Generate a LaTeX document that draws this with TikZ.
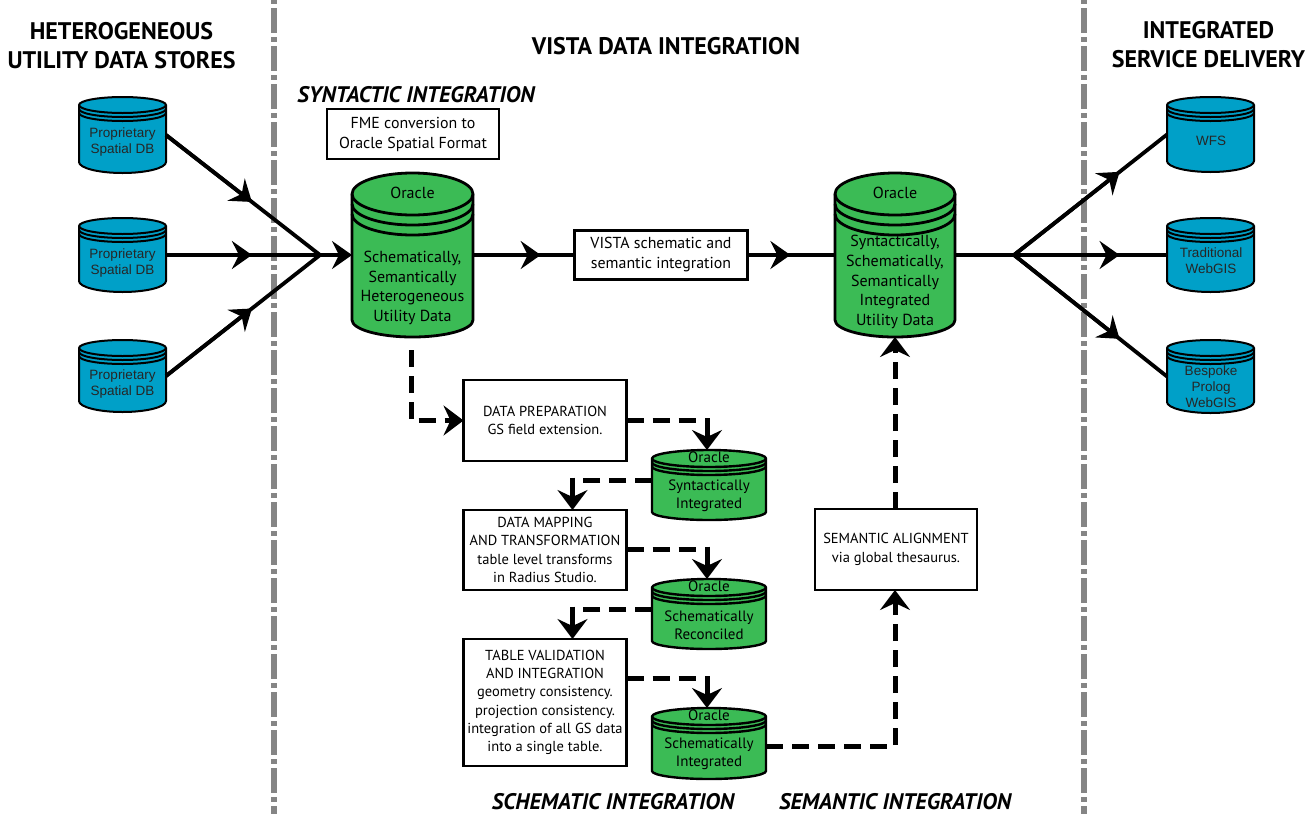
\documentclass[tikz,border=0pt]{standalone}
\usepackage{fontspec}
\setmainfont{PT Sans}
\newfontfamily\helv{Liberation Sans}
\usetikzlibrary{arrows.meta,calc}
\definecolor{dbblue}{HTML}{00A0C8}
\definecolor{dbgreen}{HTML}{3BBB55}
\definecolor{sepgray}{HTML}{858585}
\newcommand\dbcyl[9]{%
 % name,x1,x2,top,bot,ry,rb,gap,style
 \pgfmathsetmacro\cyxm{(#2+#3)/2}%
 \pgfmathsetmacro\cykx{0.55*(#3-#2)/2}%
 \pgfmathsetmacro\cysa{#4+#6}%
 \pgfmathsetmacro\cyca{#4+#6*0.45}%
 \pgfmathsetmacro\cysb{#5-#7}%
 \pgfmathsetmacro\cycb{#5-#7*0.45}%
 \pgfmathsetmacro\cywd{#3-#2}%
 \pgfmathsetmacro\cyht{#5-#4}%
 \pgfmathsetmacro\cyym{(#4+#5)/2}%
 \draw[#9] (#2,\cysa) .. controls (#2,\cyca) and ({\cyxm-\cykx},#4) .. (\cyxm,#4)
   .. controls ({\cyxm+\cykx},#4) and (#3,\cyca) .. (#3,\cysa)
   -- (#3,\cysb) .. controls (#3,\cycb) and ({\cyxm+\cykx},#5) .. (\cyxm,#5)
   .. controls ({\cyxm-\cykx},#5) and (#2,\cycb) .. (#2,\cysb) -- cycle;
 \foreach \k in {0,1,2}{%
   \pgfmathsetmacro\cyra{\cysa+\k*#8}%
   \pgfmathsetmacro\cyrc{\cyra+#6*0.55}%
   \pgfmathsetmacro\cyrb{\cyra+#6}%
   \draw[#9,fill=none] (#2,\cyra) .. controls (#2,\cyrc) and ({\cyxm-\cykx},\cyrb) .. (\cyxm,\cyrb)
     .. controls ({\cyxm+\cykx},\cyrb) and (#3,\cyrc) .. (#3,\cyra);
 }%
 \node[inner sep=0pt,outer sep=0pt,minimum width=\cywd pt,minimum height=\cyht pt] (#1) at (\cyxm,\cyym) {};%
}
\tikzset{
 bluecyl/.style={draw=black,fill=dbblue,line width=2pt},
 bigcyl/.style={draw=black,fill=dbgreen,line width=2.8pt},
 smallcyl/.style={draw=black,fill=dbgreen,line width=2.4pt},
 boxn/.style={draw=black,fill=white,line width=2.6pt,inner sep=0pt,outer sep=0pt,align=center,font=\fontsize{14.5}{18.3}\selectfont},
 bigbox/.style={boxn,font=\fontsize{15.9}{20}\selectfont},
 dbtext/.style={inner sep=0pt,align=center,font=\fontsize{16}{19.6}\selectfont},
 smalltext/.style={inner sep=0pt,align=center,font=\fontsize{15}{18}\selectfont},
 bluetext/.style={inner sep=0pt,align=center,font=\helv\fontsize{13.5}{16}\selectfont,text=black!85},
 head/.style={inner sep=0pt,align=center,font=\bfseries\fontsize{24}{29}\selectfont},
 phase/.style={inner sep=0pt,font=\bfseries\itshape\fontsize{22.5}{26}\selectfont},
 sep/.style={draw=sepgray,line width=5.5pt,dash pattern=on 25pt off 4pt on 5pt off 4pt,dash phase=30pt},
 wire/.style={draw=black,line width=3.8pt},
 wirearrow/.style={wire,-{Stealth[length=20pt,width=28pt,inset=7pt]}},
 dashline/.style={draw=black,line width=5pt,dash pattern=on 17pt off 9pt},
 dashwire/.style={dashline,-{Stealth[length=20pt,width=30pt,inset=7pt]}},
 stub/.style={draw=black,line width=5pt,-{Stealth[length=20pt,width=30pt,inset=7pt]}},
}
\begin{document}
\begin{tikzpicture}[x=1pt,y=-1pt]
\useasboundingbox (0,0) rectangle (1306,814);
\fill[white] (0,0) rectangle (1306,814);
% separators
\coordinate (s1a) at (274,0); \coordinate (s1b) at (274,814);
\coordinate (s2a) at (1084,0); \coordinate (s2b) at (1084,814);
\draw[sep] (s1a) -- (s1b);
\draw[sep] (s2a) -- (s2b);
% headings
\node[head] (h1) at (121.5,45.5) {HETEROGENEOUS\\UTILITY DATA STORES};
\node[head] (h2) at (666,46) {VISTA DATA INTEGRATION};
\node[head] (h3) at (1208.5,44.5) {INTEGRATED\\SERVICE DELIVERY};
\node[phase] (ph1) at (416,95) {SYNTACTIC INTEGRATION};
\node[phase] (ph2) at (613,802) {SCHEMATIC INTEGRATION};
\node[phase] (ph3) at (895,802) {SEMANTIC INTEGRATION};
% left stores
\dbcyl{p1}{79}{166}{97}{173}{8}{11}{4}{bluecyl}
\dbcyl{p2}{79}{166}{218}{292}{8}{11}{4}{bluecyl}
\dbcyl{p3}{79}{166}{340}{412}{8}{11}{4}{bluecyl}
\node[bluetext] (p1t) at (122.5,142) {Proprietary\\Spatial DB};
\node[bluetext] (p2t) at (122.5,263) {Proprietary\\Spatial DB};
\node[bluetext] (p3t) at (122.5,384) {Proprietary\\Spatial DB};
% right stores
\dbcyl{w1}{1167}{1254}{97}{172}{8}{11}{4}{bluecyl}
\dbcyl{w2}{1167}{1254}{218}{292}{8}{11}{4}{bluecyl}
\dbcyl{w3}{1167}{1254}{340}{413}{8}{11}{4}{bluecyl}
\node[bluetext] (w1t) at (1211,141) {WFS};
\node[bluetext] (w2t) at (1211,260.5) {Traditional\\WebGIS};
\node[bluetext] (w3t) at (1211,387) {Bespoke\\Prolog\\WebGIS};
% big oracles
\dbcyl{o1}{352}{473}{173}{337}{21}{17}{10}{bigcyl}
\dbcyl{o2}{835}{955}{173}{337}{21}{17}{10}{bigcyl}
\node[dbtext] (o1a) at (412.5,193) {Oracle};
\node[dbtext] (o1t) at (412.5,288) {Schematically,\\Semantically\\Heterogeneous\\Utility Data};
\node[dbtext] (o2a) at (895,193) {Oracle};
\node[dbtext] (o2t) at (895,282) {Syntactically,\\Schematically,\\Semantically\\Integrated\\Utility Data};
% boxes
\node[bigbox,minimum width=172pt,minimum height=50pt] (fme) at (413,134) {FME conversion to\\Oracle Spatial Format};
\node[bigbox,minimum width=173pt,minimum height=49pt] (vista) at (661,255) {VISTA schematic and\\semantic integration};
\node[boxn,minimum width=163pt,minimum height=81pt] (prep) at (545,420.5) {DATA PREPARATION\\GS field extension.};
\node[boxn,minimum width=163pt,minimum height=80pt] (map) at (545,550) {DATA MAPPING\\AND TRANSFORMATION\\table level transforms\\in Radius Studio.};
\node[boxn,minimum width=163pt,minimum height=127pt] (val) at (545,702.5) {TABLE VALIDATION\\AND INTEGRATION\\geometry consistency.\\projection consistency.\\integration of all GS data\\into a single table.};
\node[boxn,minimum width=162pt,minimum height=81pt] (sem) at (896,549.5) {SEMANTIC ALIGNMENT\\via global thesaurus.};
% small oracles
\dbcyl{c1}{652}{766}{450}{520}{8.5}{8}{4}{smallcyl}
\dbcyl{c2}{652}{766}{579}{649}{8.5}{8}{4}{smallcyl}
\dbcyl{c3}{652}{766}{708}{779}{8.5}{8}{4}{smallcyl}
\node[smalltext] (c1a) at (709,457) {Oracle};
\node[smalltext] (c1t) at (709,496) {Syntactically\\Integrated};
\node[smalltext] (c2a) at (709,586) {Oracle};
\node[smalltext] (c2t) at (709,625) {Schematically\\Reconciled};
\node[smalltext] (c3a) at (709,715) {Oracle};
\node[smalltext] (c3t) at (709,754) {Schematically\\Integrated};
% solid connectors, left fan
\coordinate (j1) at (320,255);
\draw[wire] (p1.east) -- (j1);
\draw[wire] (p2.east) -- (j1);
\draw[wire] (p3.east) -- (j1);
\draw[wirearrow] (p1.east) -- ($(p1.east)!0.558!(j1)$);
\draw[wirearrow] (p2.east) -- ($(p2.east)!0.558!(j1)$);
\draw[wirearrow] (p3.east) -- ($(p3.east)!0.558!(j1)$);
\draw[wirearrow] (j1) -- (o1.west);
% main line
\draw[wire] (o1.east) -- (vista.west);
\draw[wirearrow] (o1.east) -- ($(o1.east)!0.667!(vista.west)$);
\draw[wire] (vista.east) -- (o2.west);
\draw[wirearrow] (vista.east) -- ($(vista.east)!0.49!(o2.west)$);
% right fan
\coordinate (j2) at (1014,255);
\draw[wire] (o2.east) -- (j2);
\draw[wire] (j2) -- (w1.west);
\draw[wire] (j2) -- (w2.west);
\draw[wire] (j2) -- (w3.west);
\draw[wirearrow] (j2) -- ($(j2)!0.69!(w1.west)$);
\draw[wirearrow] (j2) -- ($(j2)!0.69!(w2.west)$);
\draw[wirearrow] (j2) -- ($(j2)!0.69!(w3.west)$);
% dashed connectors
\draw[dashwire,dash phase=17pt] ([xshift=-1.5pt,yshift=-4pt]o1.south) |- (prep.west);
% stubs: dashed run, then solid arrow into the target
\coordinate (tc1) at ([xshift=-2pt]c1.north);
\coordinate (tc2) at ([xshift=-2pt]c2.north);
\coordinate (tc3) at ([xshift=-2pt]c3.north);
\coordinate (tmap) at ([xshift=27.5pt]map.north);
\coordinate (tval) at ([xshift=27.5pt]val.north);
\coordinate (a1) at (prep.east);
\coordinate (a2) at ([yshift=5pt]c1.west);
\coordinate (a3) at ([yshift=1pt]map.east);
\coordinate (a4) at ([yshift=5pt]c2.west);
\coordinate (a5) at ([yshift=24pt]val.east);
\draw[dashline] (a1) -- ([xshift=-9pt]a1 -| tc1);
\draw[stub] ([yshift=2.5pt]a1 -| tc1) -- (tc1);
\draw[dashline] (a2) -- ([xshift=9pt]a2 -| tmap);
\draw[stub] ([yshift=2.5pt]a2 -| tmap) -- (tmap);
\draw[dashline] (a3) -- ([xshift=-9pt]a3 -| tc2);
\draw[stub] ([yshift=2.5pt]a3 -| tc2) -- (tc2);
\draw[dashline] (a4) -- ([xshift=9pt]a4 -| tval);
\draw[stub] ([yshift=2.5pt]a4 -| tval) -- (tval);
\draw[dashline] (a5) -- ([xshift=-9pt]a5 -| tc3);
\draw[stub] ([yshift=2.5pt]a5 -| tc3) -- (tc3);
\draw[dashwire] ([yshift=-2.5pt]c3.east) -| ([xshift=-1pt]sem.south);
\draw[dashwire] ([xshift=-1pt]sem.north) -- (o2.south);
\end{tikzpicture}
\end{document}
